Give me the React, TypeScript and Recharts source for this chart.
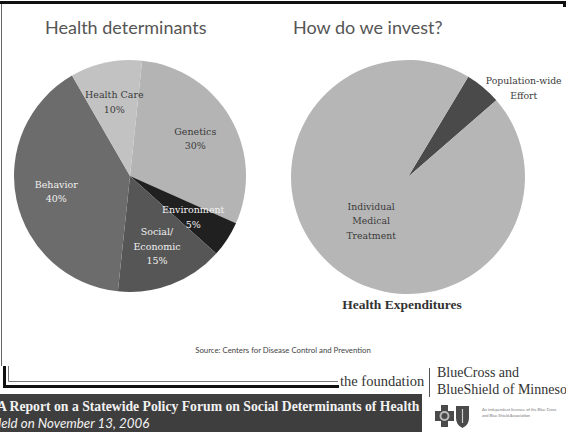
import { PieChart, Pie, Cell } from 'recharts';

// left pie: health determinants (percent)
const determinantLabels = [["Genetics"], ["Environment"], ["Social/", "Economic"], ["Behavior"], ["Health Care"]];
const determinantValues = [30, 5, 15, 40, 10];
const determinantColors = ["#b4b4b4", "#202020", "#565656", "#6c6c6c", "#c2c2c2"];
const determinantTextColors = ["#3a3a3a", "#f0f0f0", "#f0f0f0", "#f0f0f0", "#3a3a3a"];

// right pie: how we invest
const investLabels = [["Population-wide", "Effort"], ["Individual", "Medical", "Treatment"]];
const investValues = [5, 95];
const investColors = ["#4a4a4a", "#b6b6b6"];

const determinantData = determinantLabels.map((lines, i) => ({ name: lines.join(" "), value: determinantValues[i] }));
const investData = investLabels.map((lines, i) => ({ name: lines.join(" "), value: investValues[i] }));

const RADIAN = Math.PI / 180;
const LINE_H = 14.5;
const labelFont = "'DejaVu Serif', serif";

function DeterminantLabel(props: any) {
    const { cx, cy, midAngle, outerRadius, index, value } = props;
    const r = outerRadius * 0.65;
    const x = cx + r * Math.cos(-midAngle * RADIAN);
    const y = cy + r * Math.sin(-midAngle * RADIAN);
    const lines = [...determinantLabels[index], value + "%"];
    const top = y - ((lines.length - 1) * LINE_H) / 2;
    return (
        <g>
            {lines.map((t, i) => (
                <text key={i} x={x} y={top + i * LINE_H} textAnchor="middle" dominantBaseline="central"
                    fontFamily={labelFont} fontSize={9.5} fill={determinantTextColors[index]}>{t}</text>
            ))}
        </g>
    );
}

function InvestLabel(props: any) {
    const { cx, cy, midAngle, outerRadius, index } = props;
    const lines = investLabels[index];
    // small slice gets its label outside, to the right
    const outside = index === 0;
    const r = outerRadius * (outside ? 1.06 : 0.49);
    let x = cx + r * Math.cos(-midAngle * RADIAN);
    let y = cy + r * Math.sin(-midAngle * RADIAN);
    if (outside) { x += 36; y += 6; }
    const top = y - ((lines.length - 1) * LINE_H) / 2;
    return (
        <g>
            {lines.map((t, i) => (
                <text key={i} x={x} y={top + i * LINE_H} textAnchor="middle" dominantBaseline="central"
                    fontFamily={labelFont} fontSize={9.3} fill="#3a3a3a">{t}</text>
            ))}
        </g>
    );
}

const abs = (s: any) => ({ position: "absolute" as const, whiteSpace: "nowrap" as const, ...s });

export default function App() {
    return (
        <div style={{ position: "absolute", left: 0, top: 0, width: 566, height: 432, background: "#fff", overflow: "hidden" }}>
            <div style={abs({ left: 0, top: 0 })}>
                <PieChart width={566} height={432}>
                    <Pie data={determinantData} dataKey="value" nameKey="name" cx={125} cy={171} outerRadius={116}
                        startAngle={84} endAngle={-276} stroke="none" isAnimationActive={false}
                        label={DeterminantLabel} labelLine={false}>
                        {determinantData.map((d, i) => <Cell key={d.name} fill={determinantColors[i]} />)}
                    </Pie>
                    <Pie data={investData} dataKey="value" nameKey="name" cx={403} cy={172} outerRadius={117}
                        startAngle={59} endAngle={-301} stroke="none" isAnimationActive={false}
                        label={InvestLabel} labelLine={false}>
                        {investData.map((d, i) => <Cell key={d.name} fill={investColors[i]} />)}
                    </Pie>
                </PieChart>
            </div>

            <svg width={566} height={432} style={{ position: "absolute", left: 0, top: 0 }}>
                {/* frame */}
                <rect x={0} y={1} width={566} height={3} fill="#111" />
                <rect x={563} y={1} width={3} height={6} fill="#111" />
                <line x1={1.5} y1={4} x2={1.5} y2={366} stroke="#666" strokeWidth={1} />
                <rect x={3} y={366} width={3} height={22} fill="#111" />
                <rect x={3} y={385} width={336} height={3} fill="#111" />
                <polyline points="8.5,366 8.5,381.5 338,381.5" fill="none" stroke="#777" strokeWidth={1} />
                <line x1={429.5} y1={368} x2={429.5} y2={397} stroke="#555" strokeWidth={1} />
                {/* banner */}
                <rect x={0} y={394} width={422} height={38} fill="#3e3e3e" />
                {/* logos */}
                <g fill="#4a4a4a">
                    <rect x={441} y={405} width={7} height={22} />
                    <rect x={435} y={411} width={19} height={10} />
                    <circle cx={444.5} cy={416} r={5} fill="#bbb" />
                    <circle cx={444.5} cy={416} r={3} fill="#4a4a4a" />
                    <path d="M456,406 L469,406 L469,418 Q469,425 462.5,428 Q456,425 456,418 Z" />
                    <path d="M462.5,409 L462.5,423" stroke="#ccc" strokeWidth={1.2} />
                </g>
            </svg>

            <div style={abs({ left: 45, top: 16, fontFamily: "Lato, sans-serif", fontSize: 18, color: "#555" })}>Health determinants</div>
            <div style={abs({ left: 293, top: 16, fontFamily: "Lato, sans-serif", fontSize: 18, color: "#555" })}>How do we invest?</div>
            <div style={abs({ left: 332, top: 297, width: 140, textAlign: "center", fontFamily: "'Liberation Serif', serif", fontWeight: "bold", fontSize: 13.5, color: "#333" })}>Health Expenditures</div>
            <div style={abs({ left: 83, top: 345, width: 400, textAlign: "center", fontFamily: "Lato, sans-serif", fontSize: 7.8, color: "#444" })}>Source: Centers for Disease Control and Prevention</div>
            <div style={abs({ left: 340, top: 373, fontFamily: "'Liberation Serif', serif", fontSize: 14.5, color: "#333" })}>the foundation</div>
            <div style={abs({ left: 437, top: 364, fontFamily: "'Liberation Serif', serif", fontSize: 14, lineHeight: "17px", color: "#333" })}>BlueCross and<br />BlueShield of Minnesota</div>
            <div style={abs({ left: -3, top: 399, fontFamily: "'Liberation Serif', serif", fontWeight: "bold", fontSize: 13.7, color: "#f2f2f2" })}>A Report on a Statewide Policy Forum on Social Determinants of Health</div>
            <div style={abs({ left: -8, top: 415, fontFamily: "Lato, sans-serif", fontStyle: "italic", fontSize: 13.3, color: "#f2f2f2" })}>Held on November 13, 2006</div>
            <div style={abs({ left: 482, top: 407, fontFamily: "Lato, sans-serif", fontSize: 4, lineHeight: "6px", color: "#777" })}>An independent licensee of the Blue Cross<br />and Blue Shield Association</div>
        </div>
    );
}
